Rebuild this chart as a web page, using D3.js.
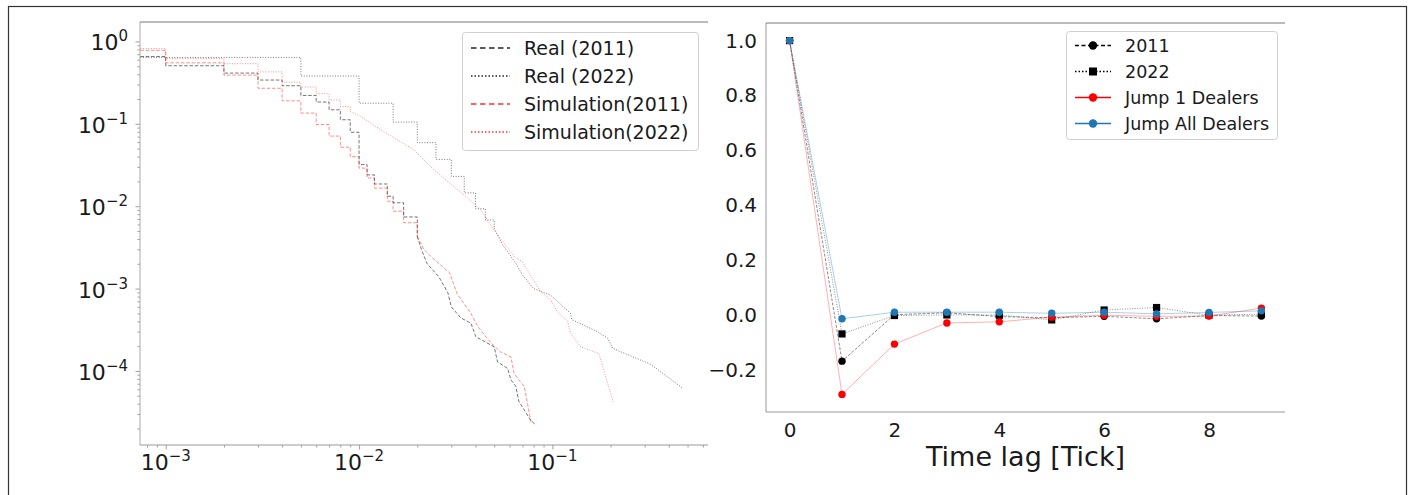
<!DOCTYPE html>
<html>
<head>
<meta charset="utf-8">
<script src="https://cdn.jsdelivr.net/npm/d3@7"></script>
<style>
  body { margin: 0; background: #fff; }
  svg { display: block; font-family: "DejaVu Sans", sans-serif; }
</style>
</head>
<body>
<div id="chart"></div>
<script>
// Left panel: CCDF of returns (log-log). Head is stepped, tail is jagged.
var real2011StepX = [0.00074, 0.001, 0.002, 0.003, 0.004, 0.005, 0.006, 0.007, 0.008, 0.009, 0.010, 0.011, 0.012, 0.014, 0.015, 0.017, 0.020];
var real2011StepY = [0.657, 0.507, 0.413, 0.340, 0.290, 0.221, 0.184, 0.148, 0.112, 0.079, 0.032, 0.024, 0.0186, 0.0132, 0.011, 0.0074, 0.0043];
var real2011TailX = [0.020, 0.021, 0.0225, 0.0258, 0.0288, 0.030, 0.0336, 0.0379, 0.0402, 0.050, 0.052, 0.0587, 0.061, 0.0647, 0.067, 0.0773, 0.0824];
var real2011TailY = [0.0043, 0.0030, 0.0020, 0.0014, 0.00089, 0.0006, 0.00044, 0.00038, 0.00026, 0.000196, 0.000129, 0.000107, 0.000078, 0.000065, 0.000043, 0.000025, 0.000022];

var real2022StepX = [0.00074, 0.005, 0.010, 0.015, 0.020, 0.025, 0.030, 0.035, 0.040, 0.045, 0.050];
var real2022StepY = [0.64, 0.38, 0.178, 0.105, 0.059, 0.037, 0.023, 0.0145, 0.0093, 0.0068, 0.0054];
var real2022TailX = [0.050, 0.0552, 0.0647, 0.070, 0.080, 0.098, 0.124, 0.126, 0.171, 0.193, 0.205, 0.323, 0.471];
var real2022TailY = [0.0054, 0.0034, 0.00203, 0.00146, 0.001, 0.00083, 0.0005, 0.00042, 0.0003, 0.00025, 0.000188, 0.00012, 0.000062];

var sim2011StepX = [0.00074, 0.001, 0.002, 0.003, 0.004, 0.005, 0.006, 0.007, 0.008, 0.009, 0.010, 0.011, 0.012, 0.014, 0.015, 0.017, 0.020];
var sim2011StepY = [0.78, 0.55, 0.39, 0.27, 0.19, 0.135, 0.098, 0.071, 0.052, 0.040, 0.029, 0.022, 0.0166, 0.0115, 0.0087, 0.0063, 0.0043];
var sim2011TailX = [0.020, 0.0216, 0.0235, 0.0294, 0.0321, 0.0379, 0.041, 0.048, 0.054, 0.061, 0.0634, 0.067, 0.0715, 0.0778];
var sim2011TailY = [0.0043, 0.0030, 0.00245, 0.00155, 0.00087, 0.0005, 0.00035, 0.00022, 0.00017, 0.000148, 0.000093, 0.000078, 0.000065, 0.000023];

var sim2022StepX = [0.00074, 0.001, 0.002, 0.003, 0.004, 0.005, 0.006, 0.007, 0.008, 0.009];
var sim2022StepY = [0.82, 0.62, 0.537, 0.427, 0.32, 0.28, 0.232, 0.195, 0.162, 0.141];
var sim2022TailX = [0.009, 0.0102, 0.0129, 0.0158, 0.0193, 0.0235, 0.0287, 0.0349, 0.0427, 0.050, 0.0587, 0.0634, 0.070, 0.080, 0.087, 0.098, 0.106, 0.12, 0.124, 0.14, 0.174, 0.207];
var sim2022TailY = [0.141, 0.123, 0.085, 0.064, 0.048, 0.030, 0.020, 0.0137, 0.009, 0.0051, 0.0031, 0.00245, 0.0021, 0.00126, 0.00092, 0.00073, 0.00052, 0.0004, 0.00029, 0.000196, 0.000163, 0.000041];

var leftNames = ["Real (2011)", "Real (2022)", "Simulation(2011)", "Simulation(2022)"];
var xMajorTicks = [1e-3, 1e-2, 1e-1];
var xMajorExp = ["\u22123", "\u22122", "\u22121"];
var yMajorTicks = [1, 1e-1, 1e-2, 1e-3, 1e-4];
var yMajorExp = ["0", "\u22121", "\u22122", "\u22123", "\u22124"];

// Right panel: autocorrelation by time lag
var lags = [0, 1, 2, 3, 4, 5, 6, 7, 8, 9];
var acf2011 = [1.0, -0.166, 0.003, 0.010, -0.004, -0.008, -0.003, -0.012, 0.000, -0.002];
var acf2022 = [1.0, -0.067, 0.000, 0.002, 0.002, -0.016, 0.020, 0.029, 0.001, 0.005];
var acfJump1 = [1.0, -0.287, -0.104, -0.027, -0.023, -0.006, 0.001, -0.003, -0.002, 0.027];
var acfJumpAll = [1.0, -0.012, 0.012, 0.012, 0.012, 0.008, 0.012, 0.006, 0.011, 0.017];
var rightNames = ["2011", "2022", "Jump 1 Dealers", "Jump All Dealers"];
var rightXTicks = [0, 2, 4, 6, 8];
var rightYTicks = [-0.2, 0.0, 0.2, 0.4, 0.6, 0.8, 1.0];

var svg = d3.select("#chart").append("svg")
    .attr("width", 1413)
    .attr("height", 495);

// outer frame
svg.append("rect")
    .attr("x", 8.5).attr("y", 6.5)
    .attr("width", 1398).attr("height", 500)
    .attr("fill", "none").attr("stroke", "#333").attr("stroke-width", 1.2);

// ================= LEFT PANEL =================
var L = { x0: 140, x1: 708, y0: 22, y1: 445 };
var xL = d3.scaleLog().domain([7.36e-4, 0.638]).range([L.x0, L.x1]);
var yL = d3.scaleLog().domain([1.262e-5, 1.722]).range([L.y1, L.y0]);

function isMajor(v) {
    var e = Math.log10(v);
    return Math.abs(e - Math.round(e)) < 1e-6;
}

var gL = svg.append("g");

// minor + major ticks
var xMinor = xL.ticks().filter(v => !isMajor(v));
var yMinor = yL.ticks().filter(v => !isMajor(v));

gL.append("g").attr("transform", `translate(0,${L.y1})`)
    .call(d3.axisBottom(xL).tickValues(xMinor).tickSize(2.5).tickFormat(""))
    .call(g => g.select(".domain").remove());
gL.append("g").attr("transform", `translate(0,${L.y1})`)
    .call(d3.axisBottom(xL).tickValues(xMajorTicks).tickSize(4.5).tickFormat(""))
    .call(g => g.select(".domain").remove());
gL.append("g").attr("transform", `translate(${L.x0},0)`)
    .call(d3.axisLeft(yL).tickValues(yMinor).tickSize(2.5).tickFormat(""))
    .call(g => g.select(".domain").remove());
gL.append("g").attr("transform", `translate(${L.x0},0)`)
    .call(d3.axisLeft(yL).tickValues(yMajorTicks).tickSize(4.5).tickFormat(""))
    .call(g => g.select(".domain").remove());
gL.selectAll(".tick line").attr("stroke", "#888").attr("stroke-width", 0.8);

// spines
gL.append("line").attr("x1", L.x0).attr("x2", L.x0).attr("y1", L.y0).attr("y2", L.y1)
    .attr("stroke", "#aaa").attr("stroke-width", 1);
gL.append("line").attr("x1", L.x0).attr("x2", L.x1).attr("y1", L.y1).attr("y2", L.y1)
    .attr("stroke", "#999").attr("stroke-width", 1);
gL.append("line").attr("x1", L.x0).attr("x2", L.x1).attr("y1", L.y0).attr("y2", L.y0)
    .attr("stroke", "#777").attr("stroke-width", 1);

// tick labels with superscripts
xMajorTicks.forEach(function (v, i) {
    var t = gL.append("text")
        .attr("x", xL(v)).attr("y", L.y1 + 25)
        .attr("text-anchor", "middle")
        .attr("fill", "#1a1a1a");
    t.append("tspan").attr("font-size", "22px").text("10");
    t.append("tspan").attr("font-size", "15px").attr("dy", -9).text(xMajorExp[i]);
});
yMajorTicks.forEach(function (v, i) {
    var t = gL.append("text")
        .attr("x", 128).attr("y", yL(v) + 9)
        .attr("text-anchor", "end")
        .attr("fill", "#1a1a1a");
    t.append("tspan").attr("font-size", "22px").text("10");
    t.append("tspan").attr("font-size", "15px").attr("dy", -9).text(yMajorExp[i]);
});

svg.append("clipPath").attr("id", "clipL")
    .append("rect").attr("x", L.x0).attr("y", L.y0)
    .attr("width", L.x1 - L.x0).attr("height", L.y1 - L.y0);

var stepLine = d3.line().x(d => xL(d[0])).y(d => yL(d[1])).curve(d3.curveStepAfter);
var tailLine = d3.line().x(d => xL(d[0])).y(d => yL(d[1]));

var leftSeries = [
    { sx: real2011StepX, sy: real2011StepY, tx: real2011TailX, ty: real2011TailY, color: "#000", dash: "3.5,1.8", op: 0.6 },
    { sx: real2022StepX, sy: real2022StepY, tx: real2022TailX, ty: real2022TailY, color: "#000", dash: "1,1.6", op: 0.6 },
    { sx: sim2011StepX, sy: sim2011StepY, tx: sim2011TailX, ty: sim2011TailY, color: "#ff0000", dash: "3.5,1.8", op: 0.5 },
    { sx: sim2022StepX, sy: sim2022StepY, tx: sim2022TailX, ty: sim2022TailY, color: "#ff0000", dash: "1,1.6", op: 0.5 }
];

var plotL = gL.append("g").attr("clip-path", "url(#clipL)");
leftSeries.forEach(function (s) {
    var head = s.sx.map((x, i) => [x, s.sy[i]]);
    var tail = s.tx.map((x, i) => [x, s.ty[i]]);
    plotL.append("path").attr("d", stepLine(head))
        .attr("fill", "none").attr("stroke", s.color).attr("stroke-width", 0.9)
        .attr("stroke-dasharray", s.dash).attr("opacity", s.op);
    plotL.append("path").attr("d", tailLine(tail))
        .attr("fill", "none").attr("stroke", s.color).attr("stroke-width", 0.9)
        .attr("stroke-dasharray", s.dash).attr("opacity", s.op);
});

// left legend
var legL = gL.append("g");
legL.append("rect").attr("x", 462.5).attr("y", 32.5).attr("width", 236).attr("height", 118)
    .attr("rx", 3).attr("fill", "#fff").attr("fill-opacity", 0.85)
    .attr("stroke", "#d0d0d0").attr("stroke-width", 1);
leftNames.forEach(function (name, i) {
    var y = 48 + i * 28;
    var s = leftSeries[i];
    legL.append("line").attr("x1", 471).attr("x2", 510).attr("y1", y).attr("y2", y)
        .attr("stroke", s.color).attr("stroke-width", 1.6)
        .attr("stroke-dasharray", s.dash === "1,1.6" ? "1.5,2" : "5.5,3.5")
        .attr("opacity", s.color === "#000" ? 0.85 : 0.8);
    legL.append("text").attr("x", 524).attr("y", y + 7)
        .attr("font-size", "19px").attr("fill", "#1a1a1a").text(name);
});

// ================= RIGHT PANEL =================
var R = { x0: 766, x1: 1285, y0: 23, y1: 412 };
var xR = d3.scaleLinear().domain([-0.45, 9.45]).range([R.x0, R.x1]);
var yR = d3.scaleLinear().domain([-0.351, 1.064]).range([R.y1, R.y0]);

var gR = svg.append("g");
gR.append("line").attr("x1", R.x0).attr("x2", R.x0).attr("y1", R.y0).attr("y2", R.y1)
    .attr("stroke", "#999").attr("stroke-width", 1);
gR.append("line").attr("x1", R.x0).attr("x2", R.x1).attr("y1", R.y1).attr("y2", R.y1)
    .attr("stroke", "#999").attr("stroke-width", 1);
gR.append("line").attr("x1", R.x0).attr("x2", R.x1).attr("y1", R.y0).attr("y2", R.y0)
    .attr("stroke", "#777").attr("stroke-width", 1);

gR.append("g").attr("transform", `translate(0,${R.y1})`)
    .call(d3.axisBottom(xR).tickValues(rightXTicks).tickSize(0).tickPadding(11).tickFormat(d3.format("d")))
    .call(g => g.select(".domain").remove())
    .call(g => g.selectAll("text").attr("font-size", "20px").attr("fill", "#1a1a1a")
        .attr("font-family", "DejaVu Sans, sans-serif"));
gR.append("g").attr("transform", `translate(${R.x0},0)`)
    .call(d3.axisLeft(yR).tickValues(rightYTicks).tickSize(0).tickPadding(9).tickFormat(d3.format(".1f")))
    .call(g => g.select(".domain").remove())
    .call(g => g.selectAll("text").attr("font-size", "20px").attr("fill", "#1a1a1a")
        .attr("font-family", "DejaVu Sans, sans-serif"));

gR.append("text")
    .attr("x", (R.x0 + R.x1) / 2).attr("y", 466)
    .attr("text-anchor", "middle")
    .attr("font-size", "27px").attr("fill", "#1a1a1a")
    .text("Time lag [Tick]");

var rightSeries = [
    { vals: acf2011, color: "#000", dash: "3,1.5", op: 0.5, marker: "circle" },
    { vals: acf2022, color: "#000", dash: "1,1.5", op: 0.5, marker: "square" },
    { vals: acfJump1, color: "#ff0000", dash: null, op: 0.35, marker: "circle" },
    { vals: acfJumpAll, color: "#1f77b4", dash: null, op: 0.4, marker: "circle" }
];

var acfLine = d3.line().x((d, i) => xR(lags[i])).y(d => yR(d));

function drawMarker(g, type, cx, cy, size, color) {
    if (type === "square") {
        g.append("rect").attr("x", cx - size).attr("y", cy - size)
            .attr("width", size * 2).attr("height", size * 2).attr("fill", color);
    } else {
        g.append("circle").attr("cx", cx).attr("cy", cy).attr("r", size).attr("fill", color);
    }
}

rightSeries.forEach(function (s) {
    var g = gR.append("g");
    g.append("path").attr("d", acfLine(s.vals))
        .attr("fill", "none").attr("stroke", s.color).attr("stroke-width", 0.9)
        .attr("stroke-dasharray", s.dash).attr("opacity", s.op);
    s.vals.forEach(function (v, i) {
        drawMarker(g, s.marker, xR(lags[i]), yR(v), s.marker === "square" ? 3.6 : 3.7, s.color);
    });
});

// right legend
var legR = gR.append("g");
legR.append("rect").attr("x", 1066.5).attr("y", 31.5).attr("width", 211).attr("height", 108)
    .attr("rx", 3).attr("fill", "#fff").attr("fill-opacity", 0.85)
    .attr("stroke", "#d0d0d0").attr("stroke-width", 1);
rightNames.forEach(function (name, i) {
    var y = 45.5 + i * 26;
    var s = rightSeries[i];
    legR.append("line").attr("x1", 1075).attr("x2", 1111).attr("y1", y).attr("y2", y)
        .attr("stroke", s.color).attr("stroke-width", 1.5)
        .attr("stroke-dasharray", s.dash ? (s.marker === "square" ? "1.5,2" : "4,2.5") : null);
    drawMarker(legR, s.marker, 1093, y, s.marker === "square" ? 4 : 4.2, s.color);
    legR.append("text").attr("x", 1125).attr("y", y + 6.5)
        .attr("font-size", "17.5px").attr("fill", "#1a1a1a").text(name);
});
</script>
</body>
</html>
